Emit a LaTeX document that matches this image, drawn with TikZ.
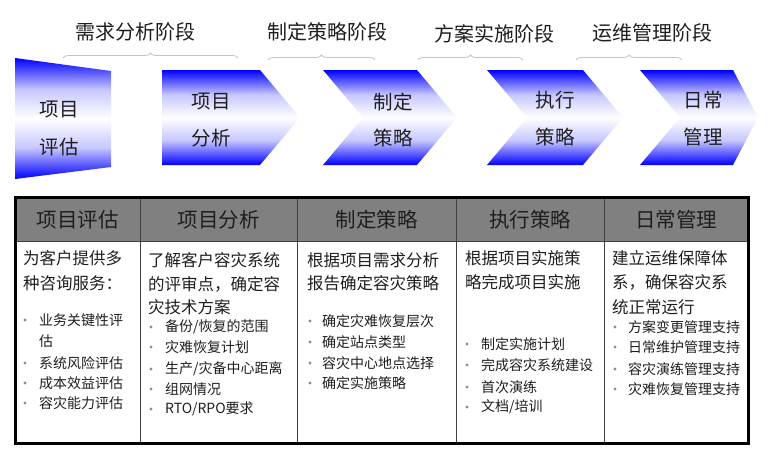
\documentclass[tikz,border=0pt]{standalone}
\usepackage{fontspec}
\setmainfont{Noto Sans CJK SC}
\usepackage{tikz}
\usetikzlibrary{decorations.pathreplacing}
\definecolor{stageblue}{HTML}{0000FF}
\definecolor{headgray}{HTML}{808080}
\definecolor{inkdark}{HTML}{1E1E1E}
\definecolor{bracegray}{HTML}{C4C4C4}
\definecolor{dotgray}{HTML}{8C8C8C}
\pgfdeclareverticalshading{stagefade}{100bp}{color(0bp)=(stageblue); color(25bp)=(stageblue);
  color(38bp)=(stageblue!22!white); color(50bp)=(white); color(62bp)=(stageblue!22!white);
  color(75bp)=(stageblue); color(100bp)=(stageblue)}

\begin{document}
\begin{tikzpicture}[x=1pt, y=-1pt,
  phase/.style={inkdark, font=\fontsize{20}{24}\selectfont},
  stage/.style={inkdark, font=\fontsize{19.5}{23}\selectfont},
  stageshade/.style={shading=stagefade},
  curly/.style={bracegray, line width=0.8pt, decorate, decoration={brace, amplitude=5pt}},
  head/.style={inkdark, font=\fontsize{20.5}{24}\selectfont},
  desc/.style={inkdark, anchor=west, inner sep=0pt, font=\fontsize{16.5}{20}\selectfont},
  item/.style={inkdark, anchor=west, inner sep=0pt, font=\fontsize{14}{17}\selectfont}]
\useasboundingbox (0,0) rectangle (783,460);

% phases
\node[phase] (ph1) at (135,32) {需求分析阶段};
\node[phase] (ph2) at (327,32) {制定策略阶段};
\node[phase] (ph3) at (494,34) {方案实施阶段};
\node[phase] (ph4) at (652,33) {运维管理阶段};
\draw[curly] (63,58) -- (238,58);
\draw[curly] (268,60) -- (375,60);
\draw[curly] (418,60) -- (523,60);
\draw[curly] (576,60) -- (682,60);

% stages
\shade[stageshade] (15,58) -- (111,71) -- (111,167) -- (15,179) -- cycle;
\shade[stageshade] (162,70) -- (260,70) -- (300,117.5) -- (260,165) -- (162,165) -- cycle;
\shade[stageshade] (323,70) -- (417,70) -- (457,117.5) -- (417,165) -- (323,165) -- (363,117.5) -- cycle;
\shade[stageshade] (487,70) -- (583,70) -- (623,117.5) -- (583,165) -- (487,165) -- (527,117.5) -- cycle;
\shade[stageshade] (640,70) -- (733,70) -- (758,117.5) -- (733,165) -- (640,165) -- (680,117.5) -- cycle;
\node[stage] (s1a) at (59,110) {项目};
\node[stage] (s1b) at (59,147) {评估};
\node[stage] (s2a) at (211,102) {项目};
\node[stage] (s2b) at (211,138) {分析};
\node[stage] (s3a) at (393,102) {制定};
\node[stage] (s3b) at (393,138) {策略};
\node[stage] (s4a) at (555,100) {执行};
\node[stage] (s4b) at (555,137) {策略};
\node[stage] (s5a) at (703,100) {日常};
\node[stage] (s5b) at (703,137) {管理};

% table frame
\fill[headgray] (15,197) rectangle (748,241);
\draw[black!75, line width=0.8pt] (15,241) -- (748,241);
\draw[black!75, line width=0.8pt] (140,197) -- (140,443) (297,197) -- (297,443)
  (456,197) -- (456,443) (604,197) -- (604,443);
\draw[black, line width=3pt] (15,197) rectangle (748,443);
\node[head] (h1) at (77.5,220) {项目评估};
\node[head] (h2) at (218.5,220) {项目分析};
\node[head] (h3) at (376.5,220) {制定策略};
\node[head] (h4) at (530,220) {执行策略};
\node[head] (h5) at (676,220) {日常管理};

% column 1
\node[desc] (c1d1) at (23,258) {为客户提供多};
\node[desc] (c1d2) at (23,283) {种咨询服务：};
\node[item] (c1i1) at (39,320) {业务关键性评};
\node[item] (c1i1b) at (39,341) {估};
\node[item] (c1i2) at (39,363) {系统风险评估};
\node[item] (c1i3) at (39,383) {成本效益评估};
\node[item] (c1i4) at (39,403) {容灾能力评估};
\fill[dotgray] (25,320) circle[radius=1.6] (25,363) circle[radius=1.6]
  (25,383) circle[radius=1.6] (25,403) circle[radius=1.6];

% column 2
\node[desc] (c2d1) at (148,260) {了解客户容灾系统};
\node[desc] (c2d2) at (148,284) {的评审点，确定容};
\node[desc] (c2d3) at (148,307) {灾技术方案};
\node[item] (c2i1) at (165,327) {备份/恢复的范围};
\node[item] (c2i2) at (165,347) {灾难恢复计划};
\node[item] (c2i3) at (165,369) {生产/灾备中心距离};
\node[item] (c2i4) at (165,389) {组网情况};
\node[item] (c2i5) at (165,409) {RTO/RPO要求};
\fill[dotgray] (151,327) circle[radius=1.6] (151,347) circle[radius=1.6]
  (151,369) circle[radius=1.6] (151,389) circle[radius=1.6] (151,409) circle[radius=1.6];

% column 3
\node[desc] (c3d1) at (307,260) {根据项目需求分析};
\node[desc] (c3d2) at (307,283) {报告确定容灾策略};
\node[item] (c3i1) at (322,321) {确定灾难恢复层次};
\node[item] (c3i2) at (322,342) {确定站点类型};
\node[item] (c3i3) at (322,363) {容灾中心地点选择};
\node[item] (c3i4) at (322,383) {确定实施策略};
\fill[dotgray] (310,321) circle[radius=1.6] (310,342) circle[radius=1.6]
  (310,363) circle[radius=1.6] (310,383) circle[radius=1.6];

% column 4
\node[desc] (c4d1) at (465,258) {根据项目实施策};
\node[desc] (c4d2) at (465,282) {略完成项目实施};
\node[item] (c4i1) at (481,344) {制定实施计划};
\node[item] (c4i2) at (481,365) {完成容灾系统建设};
\node[item] (c4i3) at (481,387) {首次演练};
\node[item] (c4i4) at (481,407) {文档/培训};
\fill[dotgray] (467,344) circle[radius=1.6] (467,365) circle[radius=1.6]
  (467,387) circle[radius=1.6] (467,407) circle[radius=1.6];

% column 5
\node[desc] (c5d1) at (612,258) {建立运维保障体};
\node[desc] (c5d2) at (612,282) {系，确保容灾系};
\node[desc] (c5d3) at (612,307) {统正常运行};
\node[item] (c5i1) at (628,327) {方案变更管理支持};
\node[item] (c5i2) at (628,347) {日常维护管理支持};
\node[item] (c5i3) at (628,369) {容灾演练管理支持};
\node[item] (c5i4) at (628,389) {灾难恢复管理支持};
\fill[dotgray] (615,327) circle[radius=1.6] (615,347) circle[radius=1.6]
  (615,369) circle[radius=1.6] (615,389) circle[radius=1.6];
\end{tikzpicture}
\end{document}
